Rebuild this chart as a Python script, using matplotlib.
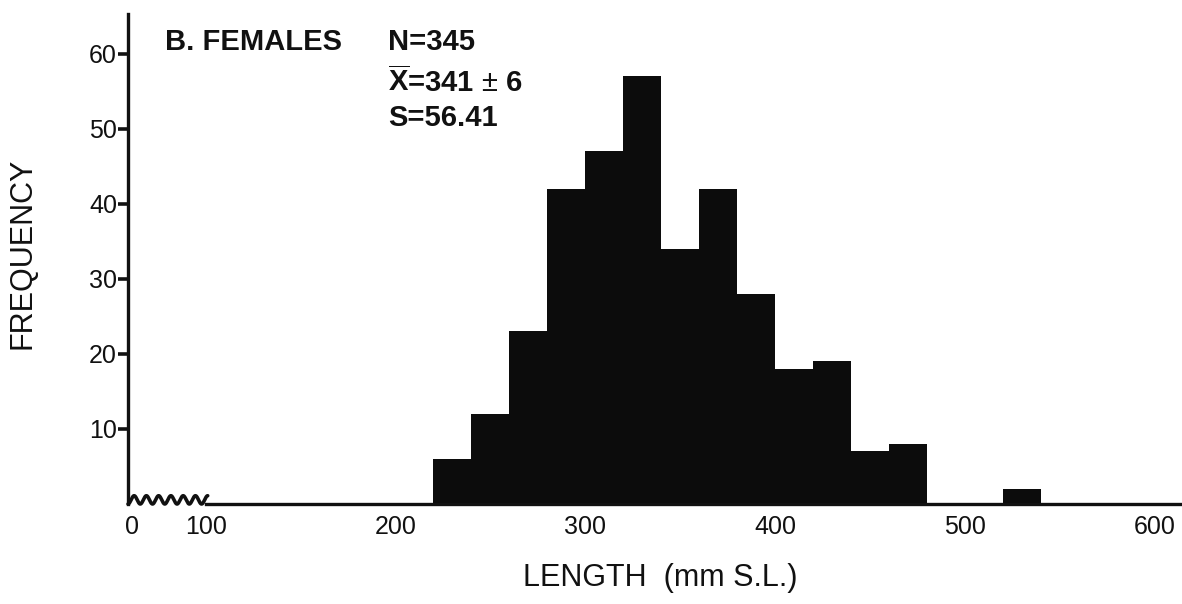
import matplotlib
matplotlib.use("Agg")
import matplotlib.pyplot as plt
import numpy as np

plt.rcParams['font.family'] = ['Liberation Sans', 'DejaVu Sans']
plt.rcParams['mathtext.fontset'] = 'custom'
plt.rcParams['mathtext.rm'] = 'Liberation Sans'
plt.rcParams['mathtext.bf'] = 'Liberation Sans:bold'

# length classes (mm S.L., left edge of 20 mm class) and counts, females
bin_left = [220, 240, 260, 280, 300, 320, 340, 360, 380, 400, 420, 440, 460, 520]
counts = [6, 12, 23, 42, 47, 57, 34, 42, 28, 18, 19, 7, 8, 2]
bin_width = 20

y_ticks = [10, 20, 30, 40, 50, 60]
x_ticks = [61, 100, 200, 300, 400, 500, 600]   # first one stands for 0 across the break
x_labels = ['0', '100', '200', '300', '400', '500', '600']

W, H = 1182, 604
fig = plt.figure(figsize=(W / 100, H / 100), dpi=100)
ax = fig.add_axes([128 / W, 100 / H, 1 - 128 / W, 490 / H])

ax.bar(bin_left, counts, width=bin_width, align='edge', color='#0c0c0c', linewidth=0)

ax.set_xlim(59, 614.5)
ax.set_ylim(0, 65.3)

for s in ['top', 'right']:
    ax.spines[s].set_visible(False)
ax.spines['left'].set_linewidth(2.4)
ax.spines['bottom'].set_linewidth(2.4)
ax.spines['bottom'].set_bounds(100, 614.5)
ax.spines['left'].set_color('#111111')
ax.spines['bottom'].set_color('#111111')

# axis break between 0 and 100
xs = np.linspace(59, 101, 500)
ys = 0.55 - 0.55 * np.cos((xs - 59) / 42 * 2 * np.pi * 6.5)
ax.plot(xs, ys, color='#111111', lw=2.6, clip_on=False, solid_capstyle='round')

ax.set_yticks(y_ticks)
ax.set_yticklabels([str(v) for v in y_ticks], fontsize=18)
ax.tick_params(axis='y', direction='out', length=7, width=2.6, pad=1, colors='#111111')
ax.set_xticks(x_ticks)
ax.set_xticklabels(x_labels, fontsize=18)
ax.tick_params(axis='x', length=0, pad=8, colors='#111111')

fig.text(23 / W, 1 - 253 / H, 'FREQUENCY', rotation=90, fontsize=22,
         ha='center', va='center', color='#111111')
fig.text(660 / W, 1 - 578 / H, 'LENGTH  (mm S.L.)', fontsize=22,
         ha='center', va='center', color='#111111')

fig.text(165 / W, 1 - 42 / H, 'B. FEMALES', fontsize=21, fontweight='bold',
         ha='left', va='center', color='#111111')
fig.text(388 / W, 1 - 42 / H, 'N=345', fontsize=21, fontweight='bold',
         ha='left', va='center', color='#111111')
fig.text(388 / W, 1 - 82 / H, r'$\overline{\mathbf{X}}$=341 $\pm$ 6', fontsize=21,
         fontweight='bold', ha='left', va='center', color='#111111')
fig.text(388 / W, 1 - 118 / H, 'S=56.41', fontsize=21, fontweight='bold',
         ha='left', va='center', color='#111111')

fig.savefig('out.png', dpi=100, facecolor='white')
